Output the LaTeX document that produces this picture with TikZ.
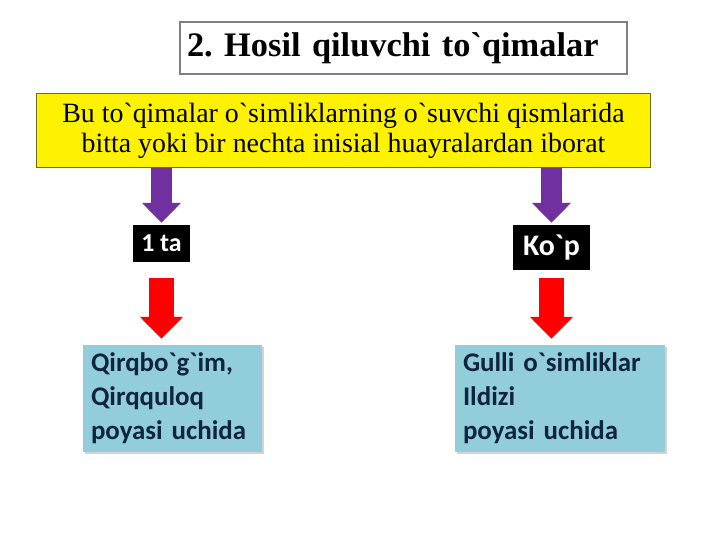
\documentclass[tikz,border=0pt]{standalone}
\usepackage{fontspec}
\newfontfamily\serifrm{Liberation Serif}
\newfontfamily\calib{Carlito}
\usetikzlibrary{arrows.meta, positioning, shadows}
\frenchspacing
\definecolor{arrowpurple}{HTML}{7030A0}
\definecolor{arrowred}{HTML}{FF0000}
\definecolor{boxblue}{HTML}{92CDDC}
\definecolor{boxtext}{HTML}{0F243E}
\tikzstyle{titlebox} = [rectangle, draw=gray, line width=1.5bp, fill=white, minimum width=447bp, minimum height=52bp, text width=433bp, align=left, font=\serifrm\bfseries\fontsize{34.5}{38}\selectfont]
\tikzstyle{infobox} = [rectangle, draw=olive!70!black, line width=1bp, fill=yellow, minimum width=613bp, minimum height=74bp, align=center, font=\serifrm\fontsize{28}{33}\selectfont]
\tikzstyle{tag} = [rectangle, fill=black, text=white, inner sep=0pt, font=\calib\bfseries]
\tikzstyle{leaf} = [rectangle, fill=boxblue, text=boxtext, minimum height=107bp, align=left, inner sep=8bp, font=\calib\bfseries\fontsize{27}{34}\selectfont, drop shadow={shadow xshift=2bp, shadow yshift=-2bp, opacity=.35}]
\tikzstyle{purplearrow} = [line width=21bp, draw=arrowpurple, -{Triangle[width=38bp,length=20bp]}]
\tikzstyle{redarrow} = [line width=25bp, draw=arrowred, -{Triangle[width=42bp,length=22bp]}]

\begin{document}
\begin{tikzpicture}[x=1bp,y=1bp]
    \useasboundingbox (0,0) rectangle (720,540);
    \node (title) [titlebox] at (403.5,492) {2. Hosil qiluvchi to\char96 qimalar};
    \node (info) [infobox] at (343.5,409) {\raisebox{-3bp}{Bu to\char96 qimalar o\char96 simliklarning o\char96 suvchi qismlarida}\\bitta yoki bir nechta inisial huayralardan iborat};
    \node (one) [tag, minimum width=57bp, minimum height=37bp, font=\calib\bfseries\fontsize{26}{28}\selectfont] at (161.5,296.5) {1 ta};
    \node (many) [tag, minimum width=77bp, minimum height=45bp, font=\calib\bfseries\fontsize{30}{32}\selectfont] at (551.5,292.5) {Ko\char96 p};
    \node (leftbox) [leaf, minimum width=179bp, text width=163bp] at (172.5,141.5) {Qirqbo\char96 g\char96 im,\\Qirqquloq\\poyasi uchida};
    \node (rightbox) [leaf, minimum width=210bp, text width=194bp] at (560,141.5) {Gulli o\char96 simliklar\\Ildizi\\poyasi uchida};

    \draw [purplearrow, shorten >=2bp] (info.south -| one.north) -- (one.north);
    \draw [purplearrow, shorten >=2bp] (info.south -| many.north) -- (many.north);
    \draw [redarrow, shorten <=16bp, shorten >=6bp] (one.south) -- (one.south |- leftbox.north);
    \draw [redarrow, shorten <=8bp, shorten >=6bp] (many.south) -- (many.south |- rightbox.north);
\end{tikzpicture}
\end{document}
